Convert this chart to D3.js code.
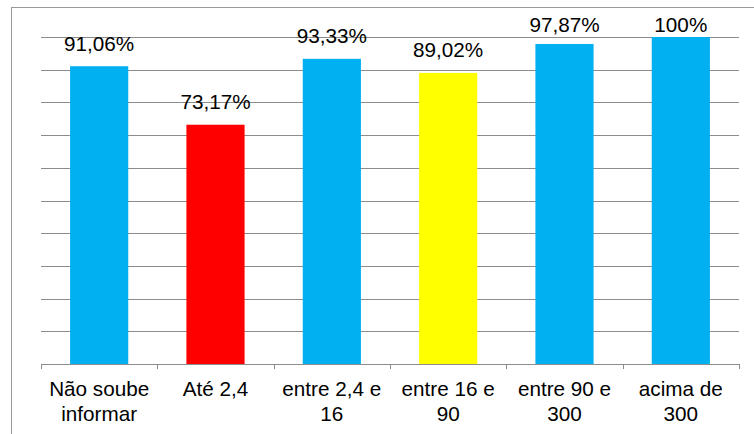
<!DOCTYPE html>
<html>
<head>
<meta charset="utf-8">
<script src="https://cdn.jsdelivr.net/npm/d3@7/dist/d3.min.js"></script>
<style>
  html, body { margin: 0; padding: 0; background: #fff; }
  svg { display: block; font-family: "Liberation Sans", Arial, sans-serif; }
</style>
</head>
<body>
<svg id="chart" width="754" height="434"></svg>
<script>
// Category labels (line breaks mark the wrapped second line)
const categories = [
  "Não soube\ninformar",
  "Até 2,4",
  "entre 2,4 e\n16",
  "entre 16 e\n90",
  "entre 90 e\n300",
  "acima de\n300"
];
// Share of respondents per range (%)
const values = [91.06, 73.17, 93.33, 89.02, 97.87, 100];
const valueLabels = ["91,06%", "73,17%", "93,33%", "89,02%", "97,87%", "100%"];
const barColors = ["#00B0F0", "#FF0000", "#00B0F0", "#FFFF00", "#00B0F0", "#00B0F0"];
const yTicks = [0, 10, 20, 30, 40, 50, 60, 70, 80, 90, 100];

const svg = d3.select("#chart");
const margin = { left: 41, right: 15, top: 37, bottom: 70 };
const W = 754, H = 434;
const plotRight = W - margin.right;
const baseline = 364;
const fontSize = 20.7;

// Outer chart frame
svg.append("rect")
  .attr("x", 11.5).attr("y", 7.5)
  .attr("width", 800).attr("height", 500)
  .attr("fill", "none").attr("stroke", "#9a9a9a").attr("stroke-width", 1);

const x = d3.scaleBand()
  .domain(d3.range(categories.length))
  .range([margin.left, plotRight])
  .paddingInner(0.5).paddingOuter(0.25);

const y = d3.scaleLinear().domain([0, 100]).range([baseline, margin.top]);

// Horizontal gridlines
svg.append("g")
  .selectAll("line")
  .data(yTicks.filter(t => t > 0))
  .join("line")
  .attr("x1", margin.left).attr("x2", plotRight)
  .attr("y1", d => Math.round(y(d)) + 0.5).attr("y2", d => Math.round(y(d)) + 0.5)
  .attr("stroke", "#8c8c8c").attr("stroke-width", 1);

// Bars
svg.append("g")
  .selectAll("rect")
  .data(values)
  .join("rect")
  .attr("x", (d, i) => x(i))
  .attr("width", x.bandwidth())
  .attr("y", d => y(d))
  .attr("height", d => baseline - y(d))
  .attr("fill", (d, i) => barColors[i]);

// Category axis with tick marks at category boundaries
const step = x.step();
const boundaries = d3.range(categories.length + 1).map(i => margin.left + i * step);
const axisG = svg.append("g");
axisG.append("line")
  .attr("x1", margin.left).attr("x2", plotRight)
  .attr("y1", baseline + 0.5).attr("y2", baseline + 0.5)
  .attr("stroke", "#8c8c8c");
axisG.selectAll("line.tick")
  .data(boundaries)
  .join("line")
  .attr("class", "tick")
  .attr("x1", d => Math.round(d) + 0.5).attr("x2", d => Math.round(d) + 0.5)
  .attr("y1", baseline).attr("y2", baseline + 5)
  .attr("stroke", "#8c8c8c");

// Category labels
axisG.selectAll("text")
  .data(categories)
  .join("text")
  .attr("x", (d, i) => x(i) + x.bandwidth() / 2)
  .attr("y", 396)
  .attr("text-anchor", "middle")
  .attr("font-size", fontSize)
  .attr("fill", "#000")
  .each(function (d) {
    const lines = d.split("\n");
    const t = d3.select(this);
    lines.forEach((ln, k) => {
      t.append("tspan")
        .attr("x", t.attr("x"))
        .attr("dy", k === 0 ? 0 : 24.5)
        .text(ln);
    });
  });

// Value labels above bars
svg.append("g")
  .selectAll("text")
  .data(values)
  .join("text")
  .attr("x", (d, i) => x(i) + x.bandwidth() / 2)
  .attr("y", d => Math.max(y(d) - 15.5, 32))
  .attr("text-anchor", "middle")
  .attr("font-size", fontSize)
  .attr("fill", "#000")
  .text((d, i) => valueLabels[i]);
</script>
</body>
</html>
